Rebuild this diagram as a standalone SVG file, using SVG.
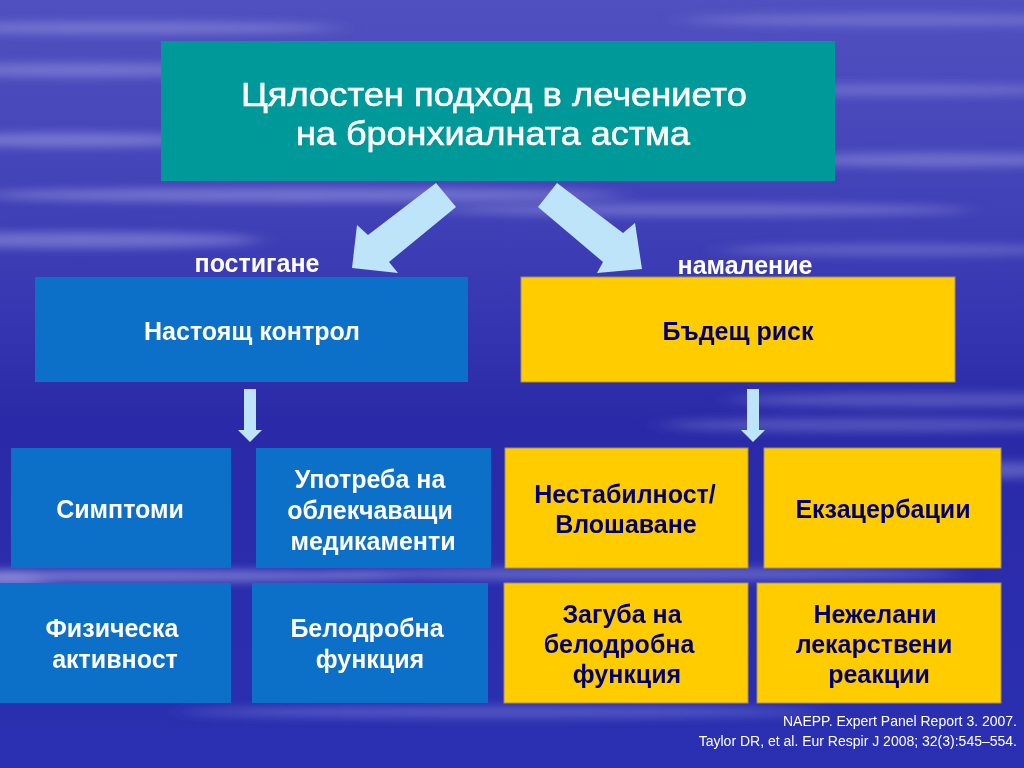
<svg xmlns="http://www.w3.org/2000/svg" width="1024" height="768" viewBox="0 0 1024 768">
<defs>
<linearGradient id="bg" x1="0" y1="0" x2="0" y2="1">
<stop offset="0" stop-color="#5050c0"/>
<stop offset="0.2" stop-color="#4646ba"/>
<stop offset="0.4" stop-color="#3737b2"/>
<stop offset="0.55" stop-color="#2a2aa8"/>
<stop offset="1" stop-color="#2a30b2"/>
</linearGradient>
<filter id="blur" x="-30%" y="-300%" width="160%" height="700%">
<feGaussianBlur stdDeviation="14 5"/>
</filter>
<style>
.blue{fill:#0c70c8}
.yel{fill:#ffcc00;stroke:#a0906a;stroke-width:1}
.teal{fill:#009999}
.arr{fill:#bde4f8}
.tw{font-family:"Liberation Sans",Arial,sans-serif;font-weight:bold;font-size:25px;fill:#ffffff;text-anchor:middle}
.ty{font-family:"Liberation Sans",Arial,sans-serif;font-weight:bold;font-size:25px;fill:#000066;text-anchor:middle}
.tt{font-family:"Liberation Sans",Arial,sans-serif;font-size:34px;fill:#ffffff;stroke:#ffffff;stroke-width:0.6;text-anchor:middle}
.ref{font-family:"Liberation Sans",Arial,sans-serif;font-size:14px;fill:#ffffff;text-anchor:end}
</style>
</defs>
<rect width="1024" height="768" fill="url(#bg)"/>
<g filter="url(#blur)" fill="#d0d0f8">
<ellipse cx="120" cy="28" rx="220" ry="6" opacity="0.3"/>
<ellipse cx="900" cy="20" rx="220" ry="6" opacity="0.25"/>
<ellipse cx="80" cy="70" rx="160" ry="7" opacity="0.3"/>
<ellipse cx="70" cy="140" rx="140" ry="7" opacity="0.35"/>
<ellipse cx="900" cy="90" rx="180" ry="6" opacity="0.25"/>
<ellipse cx="940" cy="160" rx="160" ry="7" opacity="0.3"/>
<ellipse cx="300" cy="195" rx="320" ry="7" opacity="0.35"/>
<ellipse cx="700" cy="210" rx="270" ry="6" opacity="0.3"/>
<ellipse cx="80" cy="240" rx="180" ry="8" opacity="0.35"/>
<ellipse cx="900" cy="250" rx="180" ry="6" opacity="0.25"/>
<ellipse cx="930" cy="400" rx="200" ry="7" opacity="0.25"/>
<ellipse cx="880" cy="425" rx="220" ry="7" opacity="0.25"/>
<ellipse cx="990" cy="470" rx="90" ry="8" opacity="0.3"/>
<ellipse cx="120" cy="576" rx="280" ry="6" opacity="0.45"/>
<ellipse cx="640" cy="574" rx="320" ry="6" opacity="0.35"/>
<ellipse cx="10" cy="600" rx="40" ry="30" opacity="0.3"/>
<ellipse cx="500" cy="712" rx="320" ry="6" opacity="0.25"/>
</g>

<g id="connectors">
<polygon class="arr" points="436,183 456,207 389,262 398,273 352,268 357,225 368,235"/>
<polygon class="arr" points="557,183 623,233 635,223 642,269 597,273 603,262 538,207"/>
<polygon class="arr" points="244,389 256,389 256,430 262,430 250,442 238,430 244,430"/>
<polygon class="arr" points="747,389 759,389 759,430 765,430 753,442 741,430 747,430"/>
</g>

<g id="title">
<rect class="teal" x="161" y="41" width="674" height="140"/>
<text class="tt" x="494" y="106" textLength="506" lengthAdjust="spacingAndGlyphs">Цялостен подход в лечението</text>
<text class="tt" x="493" y="145" textLength="394" lengthAdjust="spacingAndGlyphs">на бронхиалната астма</text>
</g>

<g id="label-postigane"><text class="tw" x="257" y="272">постигане</text></g>
<g id="label-namalenie"><text class="tw" x="745" y="274">намаление</text></g>

<g id="current-control">
<rect class="blue" x="35" y="277" width="433" height="105"/>
<text class="tw" x="252" y="340">Настоящ контрол</text>
</g>
<g id="future-risk">
<rect class="yel" x="521" y="277" width="434" height="105"/>
<text class="ty" x="738" y="340">Бъдещ риск</text>
</g>

<g id="symptoms">
<rect class="blue" x="11" y="448" width="220" height="120"/>
<text class="tw" x="120" y="518">Симптоми</text>
</g>
<g id="reliever-use">
<rect class="blue" x="256" y="448" width="235" height="120"/>
<text class="tw" x="370" y="488">Употреба на</text>
<text class="tw" x="370" y="519">облекчаващи</text>
<text class="tw" x="373" y="550">медикаменти</text>
</g>
<g id="instability">
<rect class="yel" x="505" y="448" width="243" height="120"/>
<text class="ty" x="625" y="503">Нестабилност/</text>
<text class="ty" x="626" y="533">Влошаване</text>
</g>
<g id="exacerbations">
<rect class="yel" x="764" y="448" width="237" height="120"/>
<text class="ty" x="883" y="518">Екзацербации</text>
</g>

<g id="physical-activity">
<rect class="blue" x="0" y="583" width="231" height="120"/>
<text class="tw" x="112" y="637">Физическа</text>
<text class="tw" x="115" y="668">активност</text>
</g>
<g id="lung-function">
<rect class="blue" x="252" y="583" width="236" height="120"/>
<text class="tw" x="367" y="637">Белодробна</text>
<text class="tw" x="370" y="668">функция</text>
</g>
<g id="lung-function-loss">
<rect class="yel" x="504" y="583" width="244" height="120"/>
<text class="ty" x="622" y="623">Загуба на</text>
<text class="ty" x="619" y="653">белодробна</text>
<text class="ty" x="627" y="683">функция</text>
</g>
<g id="adverse-reactions">
<rect class="yel" x="757" y="583" width="244" height="120"/>
<text class="ty" x="875" y="623">Нежелани</text>
<text class="ty" x="874" y="653">лекарствени</text>
<text class="ty" x="879" y="683">реакции</text>
</g>

<g id="references">
<text class="ref" x="1017" y="726">NAEPP. Expert Panel Report 3. 2007.</text>
<text class="ref" x="1017" y="746">Taylor DR, et al. Eur Respir J 2008; 32(3):545–554.</text>
</g>
</svg>
